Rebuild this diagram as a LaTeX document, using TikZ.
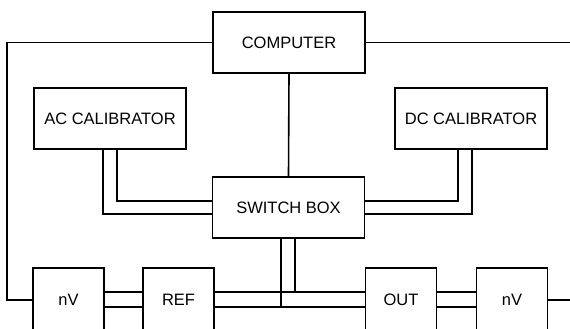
\documentclass[tikz,border=0pt]{standalone}
\usepackage{fontspec}
\setmainfont{Liberation Sans}
\usetikzlibrary{positioning}

\tikzset{
  box/.style={draw,line width=1.6pt,minimum width=152pt,minimum height=61pt,inner sep=0pt,font=\fontsize{16.5}{19}\selectfont},
  smallbox/.style={box,minimum width=71pt,minimum height=64pt},
  wire/.style={line width=1.6pt}
}

\begin{document}
\begin{tikzpicture}[x=1pt,y=-1pt]
\useasboundingbox (0,0) rectangle (570,329);
\clip (0,0) rectangle (570,329);
\node[box] (comp) at (289,42.5) {COMPUTER};
\node[box] (accal) at (110,118.5) {AC CALIBRATOR};
\node[box] (dccal) at (471,118.5) {DC CALIBRATOR};
\node[box] (switch) at (288.5,207.5) {SWITCH BOX};
\node[smallbox] (nvl) at (68.5,300) {nV};
\node[smallbox] (ref) at (178.5,300) {REF};
\node[smallbox] (out) at (401,300) {OUT};
\node[smallbox] (nvr) at (512,300) {nV};
% computer lines
\draw[wire] (comp.west) -- (comp.west -| 7,0) |- (nvl.west);
\draw[wire] (comp.east) -- (comp.east -| 575,0);
\draw[wire] (comp.south) -- (switch.north);
\draw[wire] (nvr.east) -- (nvr.east -| 575,0);
% calibrators to switch box
\foreach \xl/\xr/\yy in {103/472/214,117/458/201}
{
  \draw[wire] (accal.south -| \xl,0) |- (switch.west |- 0,\yy);
  \draw[wire] (dccal.south -| \xr,0) |- (switch.east |- 0,\yy);
}
% switch box to bus
\draw[wire] (switch.south -| 281,0) -- (281,307);
\draw[wire] (switch.south -| 295,0) -- (295,292);
% bus pairs
\foreach \a/\b in {nvl/ref,ref/out,out/nvr}
{
  \foreach \yy in {292,307}
    \draw[wire] (\a.east |- 0,\yy) -- (\b.west |- 0,\yy);
}
\end{tikzpicture}
\end{document}
